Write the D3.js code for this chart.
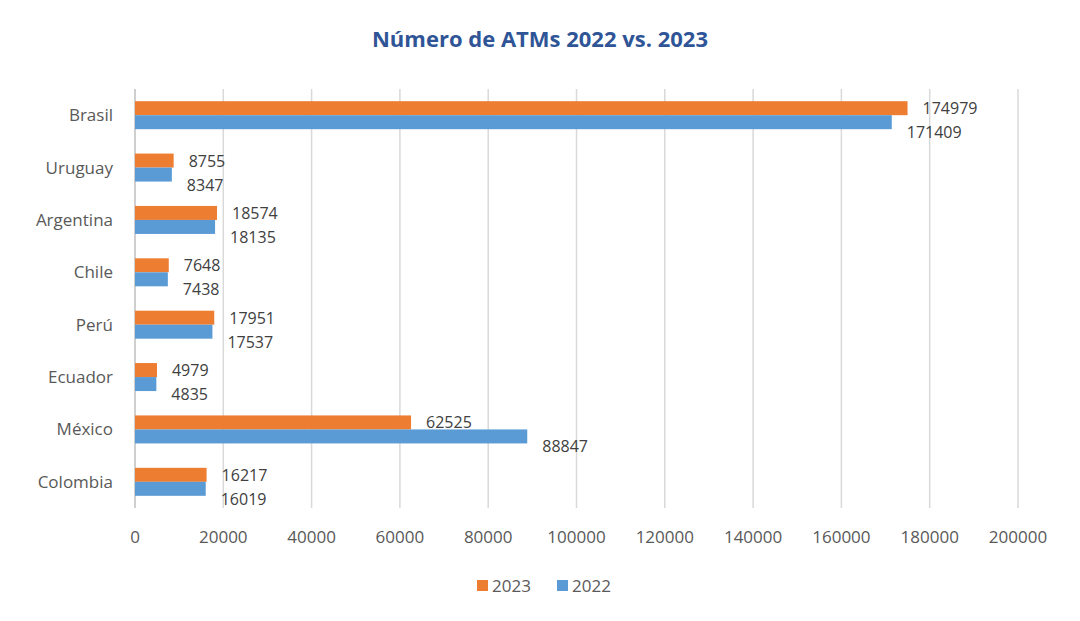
<!DOCTYPE html>
<html><head><meta charset="utf-8">
<script src="https://cdnjs.cloudflare.com/ajax/libs/d3/7.8.5/d3.min.js"></script>
<style>body{margin:0;background:#fff;font-family:"Open Sans",sans-serif;}</style>
</head><body><svg id="c" width="1080" height="621"></svg>
<script>
var countries = ["Brasil","Uruguay","Argentina","Chile","Perú","Ecuador","México","Colombia"];
var v2023 = [174979,8755,18574,7648,17951,4979,62525,16217];
var v2022 = [171409,8347,18135,7438,17537,4835,88847,16019];
var ticks = [0,20000,40000,60000,80000,100000,120000,140000,160000,180000,200000];
var colors = {"2023":"#ed7d31","2022":"#5b9bd5"};

var svg = d3.select("#c");
var x = d3.scaleLinear().domain([0,200000]).range([135,1018]);
var y = d3.scaleBand().domain(countries).range([89,508]);

svg.append("text").attr("x",540).attr("y",47).attr("text-anchor","middle")
  .attr("font-size",22).attr("font-weight","bold").attr("fill","#2f5597")
  .text("Número de ATMs 2022 vs. 2023");

svg.selectAll(".grid").data(ticks.slice(1)).enter().append("line")
  .attr("x1",d=>x(d)).attr("x2",d=>x(d)).attr("y1",89).attr("y2",508)
  .attr("stroke","#d9d9d9").attr("stroke-width",1.5);
svg.append("line").attr("x1",x(0)).attr("x2",x(0)).attr("y1",89).attr("y2",508)
  .attr("stroke","#bfbfbf").attr("stroke-width",1.5);

svg.selectAll(".tk").data(ticks).enter().append("text")
  .attr("x",d=>x(d)).attr("y",543).attr("text-anchor","middle")
  .attr("font-size",17).attr("fill","#595959").text(d=>d);

svg.selectAll(".cat").data(countries).enter().append("text")
  .attr("x",113).attr("y",d=>y(d)+y.bandwidth()/2+6).attr("text-anchor","end")
  .attr("font-size",17).attr("fill","#595959").text(d=>d);

var bh = 14;
countries.forEach(function(c,i){
  var cy = y(c)+y.bandwidth()/2;
  svg.append("rect").attr("x",x(0)).attr("y",cy-bh).attr("width",x(v2023[i])-x(0)).attr("height",bh).attr("fill",colors["2023"]);
  svg.append("rect").attr("x",x(0)).attr("y",cy).attr("width",x(v2022[i])-x(0)).attr("height",bh).attr("fill",colors["2022"]);
  svg.append("text").attr("x",x(v2023[i])+15).attr("y",cy-1).attr("font-size",16).attr("fill","#404040").text(v2023[i]);
  svg.append("text").attr("x",x(v2022[i])+15).attr("y",cy+23).attr("font-size",16).attr("fill","#404040").text(v2022[i]);
});

var leg = svg.append("g");
[["2023",477],["2022",557]].forEach(function(l){
  leg.append("rect").attr("x",l[1]).attr("y",580).attr("width",11).attr("height",11).attr("fill",colors[l[0]]);
  leg.append("text").attr("x",l[1]+15).attr("y",592).attr("font-size",17).attr("fill","#595959").text(l[0]);
});
</script></body></html>
